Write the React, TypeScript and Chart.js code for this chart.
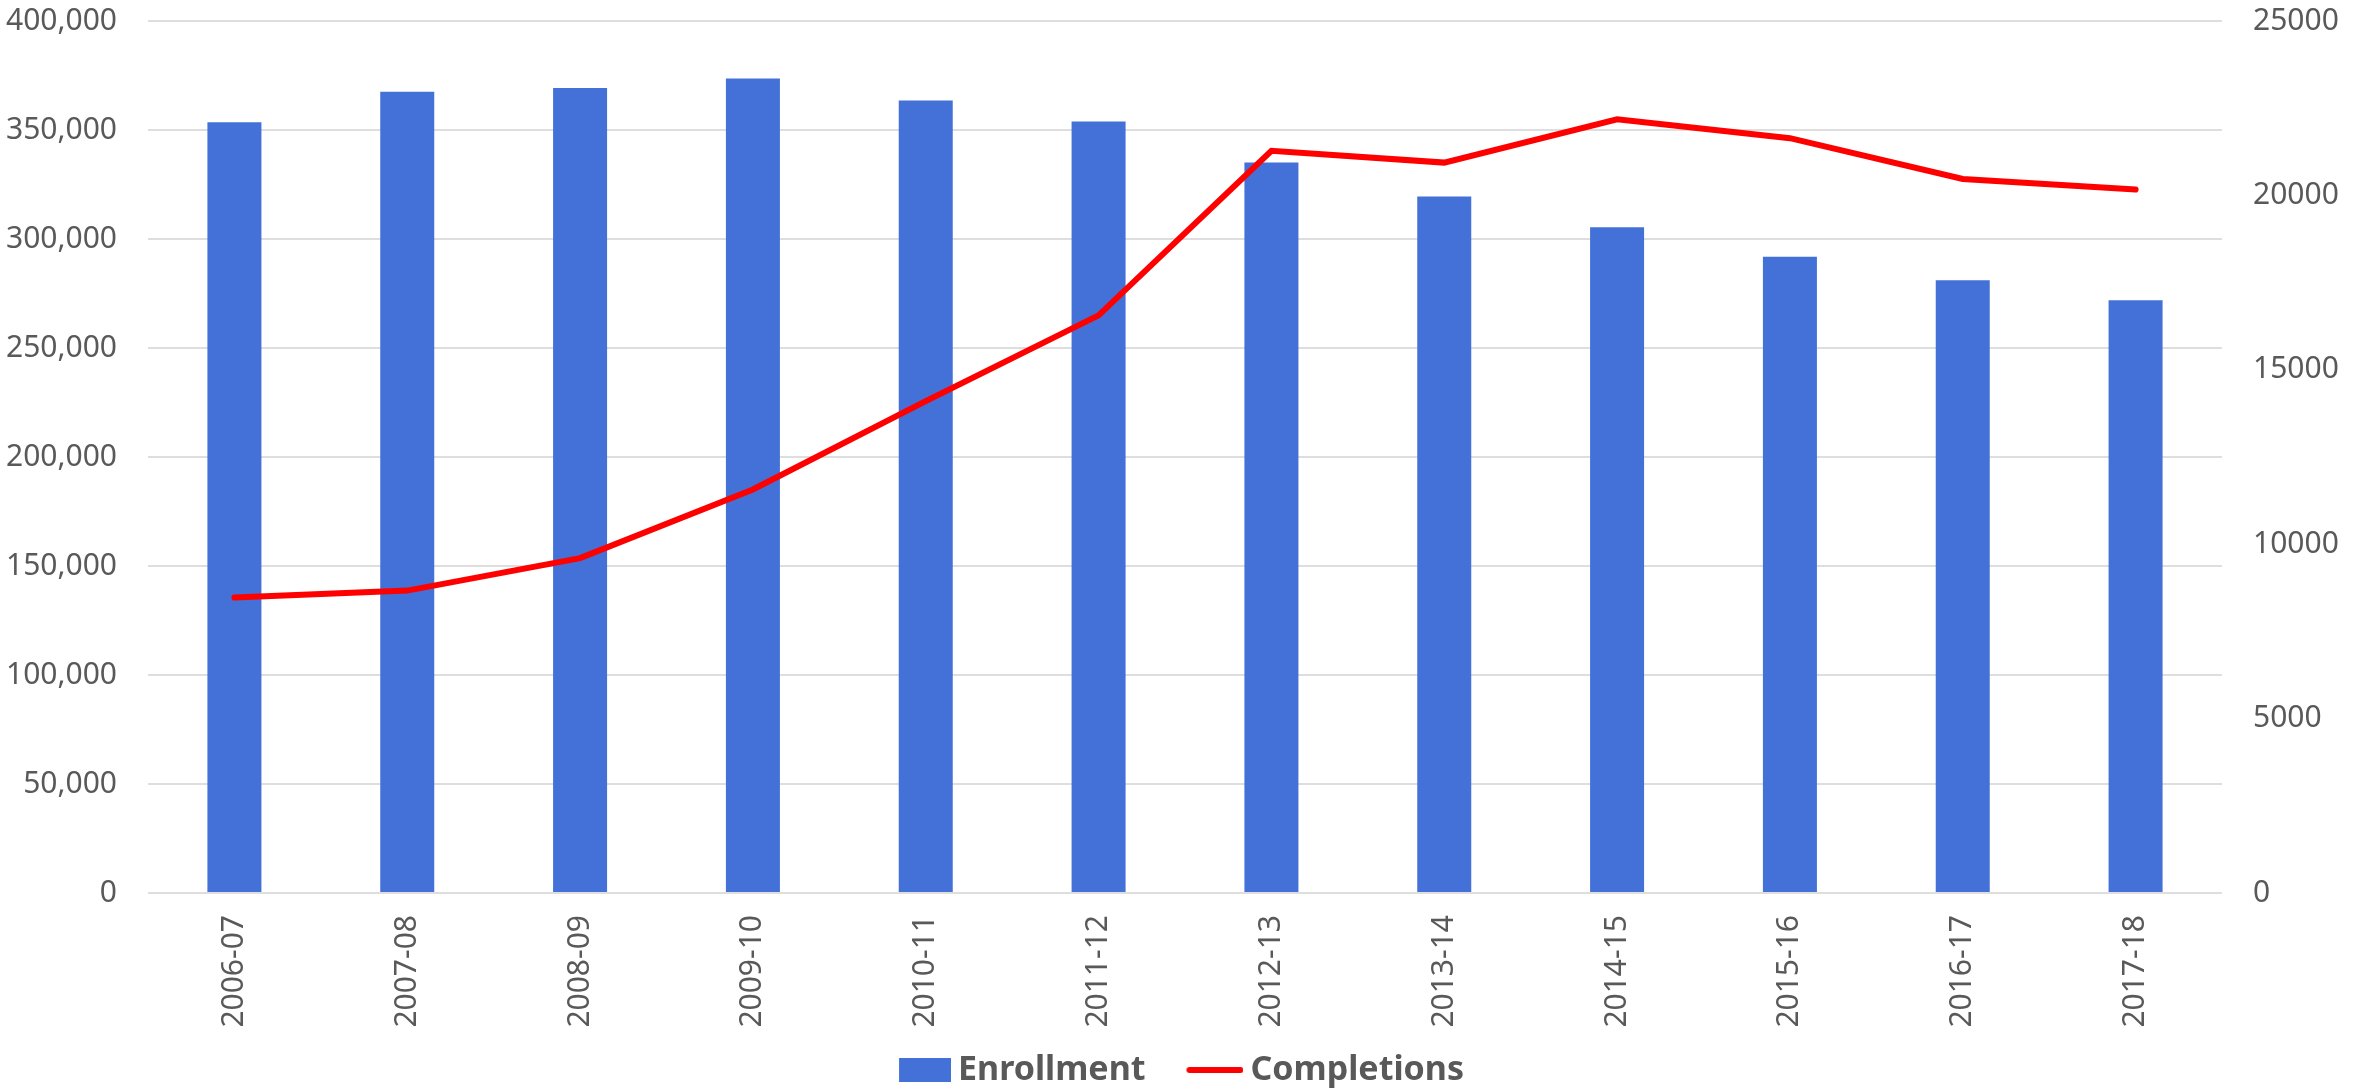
import React, { useEffect, useRef } from "react";
import { Chart, registerables } from "chart.js";

Chart.register(...registerables);

const categories = [
  "2006-07", "2007-08", "2008-09", "2009-10", "2010-11", "2011-12",
  "2012-13", "2013-14", "2014-15", "2015-16", "2016-17", "2017-18",
];
const enrollment = [353600, 367500, 369300, 373600, 363500, 353900, 335100, 319500, 305400, 291900, 281100, 271900];
const completions = [8470, 8670, 9600, 11570, 14100, 16560, 21280, 20940, 22180, 21640, 20470, 20170];
const seriesNames = ["Enrollment", "Completions"];
const leftAxisMax = 400000;
const leftAxisStep = 50000;
const rightAxisMax = 25000;
const rightAxisStep = 5000;

const BLUE = "#4471D8";
const RED = "#FF0000";
const TEXT = "#595959";
const GRID = "#DEDEDE";
const FONT = "'Noto Sans', sans-serif";

function makeMarker(kind: "bar" | "line"): HTMLCanvasElement {
  const c = document.createElement("canvas");
  if (kind === "bar") {
    c.width = 62;
    c.height = 24;
    const ctx = c.getContext("2d")!;
    ctx.fillStyle = BLUE;
    ctx.fillRect(10, 0, 52, 24);
  } else {
    c.width = 62;
    c.height = 8;
    const ctx = c.getContext("2d")!;
    ctx.strokeStyle = RED;
    ctx.lineWidth = 6;
    ctx.lineCap = "round";
    ctx.beginPath();
    ctx.moveTo(8, 4);
    ctx.lineTo(59, 4);
    ctx.stroke();
  }
  return c;
}

export default function App() {
  const ref = useRef<HTMLCanvasElement>(null);

  useEffect(() => {
    if (!ref.current) return;
    const barMarker = makeMarker("bar");
    const lineMarker = makeMarker("line");
    const chart = new Chart(ref.current, {
      type: "bar",
      data: {
        labels: categories,
        datasets: [
          {
            type: "bar",
            label: seriesNames[0],
            data: enrollment,
            backgroundColor: BLUE,
            borderWidth: 0,
            yAxisID: "y",
            order: 1,
            categoryPercentage: 1,
            barPercentage: 0.3125,
          },
          {
            type: "line",
            label: seriesNames[1],
            data: completions,
            borderColor: RED,
            backgroundColor: RED,
            borderWidth: 6,
            borderCapStyle: "round",
            pointRadius: 0,
            pointHoverRadius: 0,
            tension: 0,
            yAxisID: "y1",
            order: 0,
          },
        ],
      },
      options: {
        animation: false,
        responsive: true,
        maintainAspectRatio: false,
        layout: { padding: { top: 21, left: 0, right: 0, bottom: 0 } },
        plugins: {
          tooltip: { enabled: false },
          legend: {
            display: true,
            position: "bottom",
            labels: {
              usePointStyle: true,
              pointStyleWidth: 42,
              padding: 46,
              color: TEXT,
              font: { family: FONT, size: 34, weight: "bold" },
              generateLabels: () => [
                {
                  text: seriesNames[0],
                  pointStyle: barMarker as any,
                  fillStyle: BLUE,
                  strokeStyle: BLUE,
                  lineWidth: 0,
                  hidden: false,
                  datasetIndex: 0,
                  fontColor: TEXT,
                },
                {
                  text: seriesNames[1],
                  pointStyle: lineMarker as any,
                  fillStyle: RED,
                  strokeStyle: RED,
                  lineWidth: 0,
                  hidden: false,
                  datasetIndex: 1,
                  fontColor: TEXT,
                },
              ],
            },
          },
        },
        scales: {
          x: {
            grid: { display: false, drawTicks: false },
            border: { display: false },
            ticks: {
              autoSkip: false,
              maxRotation: 90,
              minRotation: 90,
              padding: 22,
              color: TEXT,
              font: { family: FONT, size: 30 },
            },
            afterFit: (scale: any) => {
              scale.height = 114;
              // let the rotated labels run past the axis box instead of being clipped
              scale._computeLabelArea = () => undefined;
            },
          },
          y: {
            position: "left",
            min: 0,
            max: leftAxisMax,
            grid: {
              color: GRID,
              lineWidth: 2,
              drawTicks: true,
              tickLength: 31,
              tickColor: "rgba(0,0,0,0)",
            },
            border: { display: false },
            ticks: {
              stepSize: leftAxisStep,
              padding: 0,
              color: TEXT,
              font: { family: FONT, size: 30 },
              callback: (v: any) => Number(v).toLocaleString("en-US"),
            },
            afterFit: (scale: any) => {
              scale.width = 148;
            },
          },
          y1: {
            position: "right",
            min: 0,
            max: rightAxisMax,
            grid: {
              display: true,
              drawOnChartArea: false,
              drawTicks: true,
              tickLength: 31,
              tickColor: "rgba(0,0,0,0)",
            },
            border: { display: false },
            ticks: {
              stepSize: rightAxisStep,
              padding: 0,
              color: TEXT,
              font: { family: FONT, size: 30 },
              callback: (v: any) => String(v),
            },
            afterFit: (scale: any) => {
              scale.width = 141;
            },
          },
        },
      },
    });
    return () => chart.destroy();
  }, []);

  return (
    <div
      style={{
        position: "fixed",
        left: 0,
        top: 0,
        width: 2363,
        height: 1097,
        background: "#ffffff",
      }}
    >
      <canvas ref={ref} />
    </div>
  );
}
